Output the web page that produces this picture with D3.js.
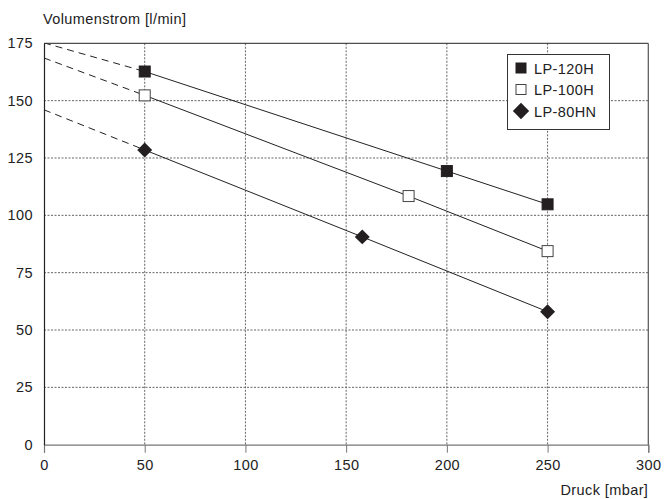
<!DOCTYPE html>
<html>
  <head>
    <meta charset="UTF-8">
    <title>Volumenstrom vs Druck</title>
    <script src="https://cdn.jsdelivr.net/npm/d3@7"></script>
    <style>
      body, html { margin:0; padding:0; background:#fff; }
      svg text { font-family: "Liberation Sans", Arial, sans-serif; font-size: 14.5px; letter-spacing: 0.4px; fill: #222; }
      .grid line { stroke: #666; stroke-dasharray: 2,1.5; stroke-width: 1; }
    </style>
  </head>
  <body>
  <div id="chart"></div>
<script type="text/javascript">

var xTicks = [0, 50, 100, 150, 200, 250, 300];
var yTicks = [0, 25, 50, 75, 100, 125, 150, 175];

var seriesNames = ['LP-120H', 'LP-100H', 'LP-80HN'];
var seriesSymbols = ['square-filled', 'square-open', 'diamond'];
// measured points (Druck, Volumenstrom)
var lp120x = [50, 200, 250],   lp120y = [162.7, 119.3, 104.8];
var lp100x = [50, 181, 250],   lp100y = [152.3, 108.4, 84.4];
var lp80x  = [50, 158, 250],   lp80y  = [128.5, 90.6, 58.0];
// value at 0 mbar where the dashed part starts
var zeroValues = [175.2, 168.6, 146.0];

var width = 664, height = 499;
var plotLeft = 44, plotRight = 648.3, plotTop = 43.3, plotBottom = 444.7;

var svg = d3.select('#chart').append('svg').attr('width', width).attr('height', height);

var x = d3.scaleLinear().domain([0, 300]).range([plotLeft, plotRight]);
var y = d3.scaleLinear().domain([0, 175]).range([plotBottom, plotTop]);

svg.append('defs').append('clipPath').attr('id', 'plotclip')
  .append('rect').attr('x', plotLeft).attr('y', plotTop).attr('width', plotRight - plotLeft).attr('height', plotBottom - plotTop);

// grid
var grid = svg.append('g').attr('class', 'grid');
grid.selectAll('line.v').data(xTicks.slice(1, -1)).enter().append('line')
  .attr('x1', function(d){ return x(d); }).attr('x2', function(d){ return x(d); })
  .attr('y1', plotTop).attr('y2', plotBottom);
grid.selectAll('line.h').data(yTicks.slice(1, -1)).enter().append('line')
  .attr('x1', plotLeft).attr('x2', plotRight)
  .attr('y1', function(d){ return y(d); }).attr('y2', function(d){ return y(d); });

// x axis
var xAxis = svg.append('g').attr('transform', 'translate(0,' + plotBottom + ')')
  .call(d3.axisBottom(x).tickValues(xTicks).tickSize(8).tickPadding(7));
xAxis.select('.domain').attr('stroke', '#777').attr('stroke-width', 1.2);
xAxis.selectAll('.tick line').attr('stroke', '#777');
xAxis.selectAll('text').attr('fill', '#222').style('font-size', '14.5px').attr('font-family', null);

// y axis
var yAxis = svg.append('g').attr('transform', 'translate(' + plotLeft + ',0)')
  .call(d3.axisLeft(y).tickValues(yTicks).tickSize(0).tickPadding(11));
yAxis.select('.domain').attr('stroke', '#222').attr('stroke-width', 1.2);
yAxis.selectAll('text').attr('fill', '#222').style('font-size', '14.5px').attr('font-family', null);

// top + right border
svg.append('line').attr('x1', plotLeft).attr('x2', plotRight).attr('y1', plotTop).attr('y2', plotTop).attr('stroke', '#222');
svg.append('line').attr('x1', plotRight).attr('x2', plotRight).attr('y1', plotTop).attr('y2', plotBottom).attr('stroke', '#555').attr('stroke-width', 1.2);

// axis titles
svg.append('text').attr('x', plotLeft - 1).attr('y', 24).text('Volumenstrom [l/min]');
svg.append('text').attr('x', plotRight).attr('y', 495).attr('text-anchor', 'end').text('Druck [mbar]');

var series = [
  { xs: lp120x, ys: lp120y },
  { xs: lp100x, ys: lp100y },
  { xs: lp80x,  ys: lp80y }
];

var line = d3.line().x(function(d){ return x(d[0]); }).y(function(d){ return y(d[1]); });
var plot = svg.append('g').attr('clip-path', 'url(#plotclip)');

series.forEach(function(s, i) {
  var pts = s.xs.map(function(v, j){ return [v, s.ys[j]]; });
  plot.append('path').attr('d', line([[0, zeroValues[i]], pts[0]]))
    .attr('fill', 'none').attr('stroke', '#222').attr('stroke-width', 1).attr('stroke-dasharray', '7,5');
  plot.append('path').attr('d', line(pts))
    .attr('fill', 'none').attr('stroke', '#222').attr('stroke-width', 1);
});

function drawSymbol(g, type, cx, cy, size) {
  if (type === 'diamond') {
    var h = size * 0.68;
    g.append('path').attr('d', 'M' + cx + ',' + (cy - h) + 'L' + (cx + h) + ',' + cy + 'L' + cx + ',' + (cy + h) + 'L' + (cx - h) + ',' + cy + 'Z')
      .attr('fill', '#231f20');
  } else {
    g.append('rect').attr('x', cx - size / 2).attr('y', cy - size / 2).attr('width', size).attr('height', size)
      .attr('fill', type === 'square-filled' ? '#231f20' : '#fff')
      .attr('stroke', type === 'square-filled' ? '#231f20' : '#444').attr('stroke-width', 1);
  }
}

var marks = svg.append('g');
series.forEach(function(s, i) {
  s.xs.forEach(function(v, j) {
    drawSymbol(marks, seriesSymbols[i], x(v), y(s.ys[j]), 11);
  });
});

// legend
var lg = svg.append('g');
lg.append('rect').attr('x', 507.5).attr('y', 54.5).attr('width', 102).attr('height', 75)
  .attr('fill', '#fff').attr('stroke', '#333');
seriesNames.forEach(function(name, i) {
  var cy = 68 + i * 21.5;
  drawSymbol(lg, seriesSymbols[i], 521, cy, i === 2 ? 12 : 10);
  lg.append('text').attr('x', 534).attr('y', cy + 5.5).text(name);
});

</script>
  </body>
</html>
